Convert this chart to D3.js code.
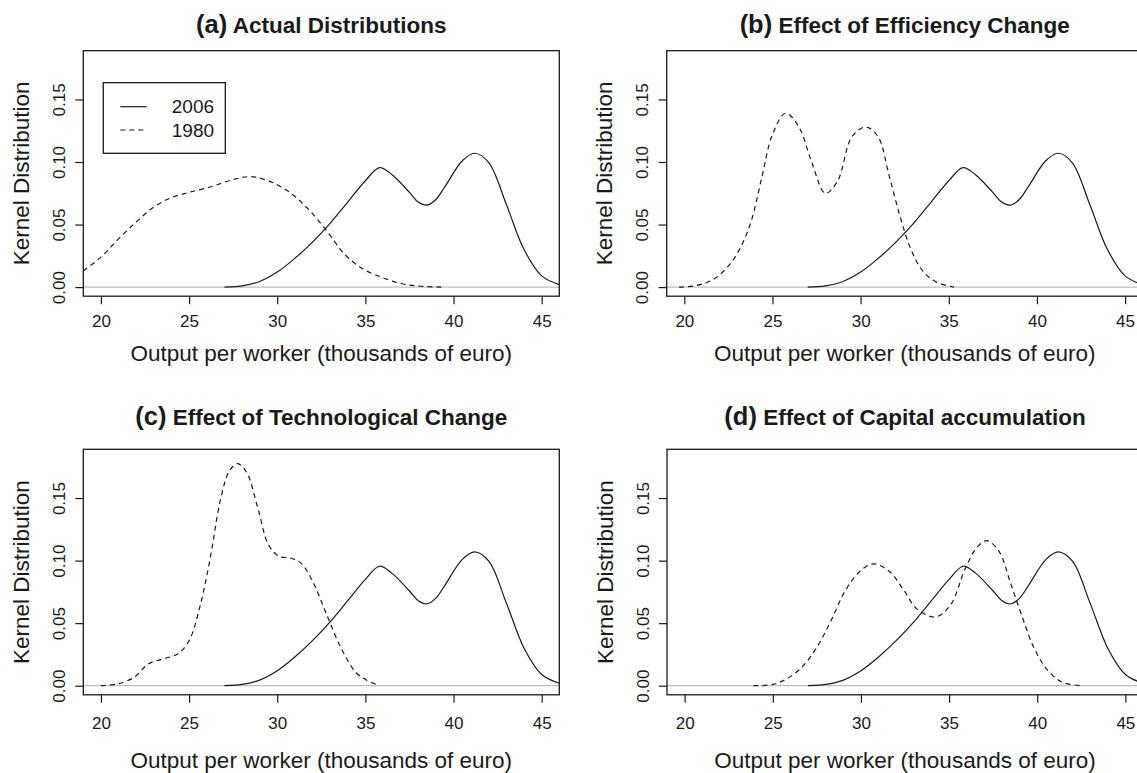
<!DOCTYPE html>
<html>
<head>
<meta charset="utf-8">
<script src="https://cdn.jsdelivr.net/npm/d3@7"></script>
<style>
  body { margin: 0; background: #fff; }
  svg { display: block; font-family: "Liberation Sans", Arial, Helvetica, sans-serif; }
</style>
</head>
<body>
<div id="chart"></div>
<script>
// tick values
var xTicks = [20, 25, 30, 35, 40, 45];
var yTicks = [0, 0.05, 0.10, 0.15];

// 2006 kernel density (same curve in every panel)
var x2006 = [27, 28, 29, 30, 31, 32, 33, 34, 35, 35.8, 36.5, 37.5, 38, 38.5, 39, 39.5, 40.5, 41.2, 42, 43, 44, 45, 46];
var d2006 = [0, 0.001, 0.0045, 0.012, 0.023, 0.036, 0.051, 0.068, 0.085, 0.0955, 0.090, 0.0757, 0.068, 0.0655, 0.070, 0.080, 0.101, 0.107, 0.0995, 0.066, 0.030, 0.009, 0.002];

// 1980 actual
var xActual = [19, 20, 21, 22, 22.9, 23.9, 25, 26.2, 27.4, 28.5, 29.5, 30.7, 31.75, 32.8, 33.8, 34.85, 35.9, 36.9, 37.9, 39.3];
var dActual = [0.013, 0.024, 0.0386, 0.052, 0.063, 0.071, 0.0758, 0.080, 0.0856, 0.0883, 0.085, 0.0758, 0.0625, 0.045, 0.0266, 0.0146, 0.008, 0.0032, 0.001, 0];

// 1980 with efficiency change
var xEff = [19.7, 20.7, 21.7, 22.6, 23.2, 23.8, 24.4, 25.0, 25.75, 26.5, 27.2, 28.0, 28.7, 29.5, 30.3, 31.0, 31.6, 32.2, 32.8, 33.5, 34.3, 35.3];
var dEff = [0, 0.0013, 0.0066, 0.0186, 0.032, 0.053, 0.088, 0.122, 0.139, 0.128, 0.101, 0.075, 0.085, 0.12, 0.128, 0.12, 0.090, 0.0585, 0.032, 0.0133, 0.004, 0];

// 1980 with technological change
var xTech = [20, 21, 21.9, 22.7, 23.5, 24.35, 25, 25.6, 26.2, 26.8, 27.3, 27.75, 28.25, 28.9, 29.5, 30.1, 30.75, 31.35, 32, 32.8, 33.6, 34.45, 35.1, 35.8];
var dTech = [0, 0.0016, 0.0069, 0.0175, 0.0214, 0.0254, 0.036, 0.0624, 0.102, 0.150, 0.172, 0.1775, 0.171, 0.142, 0.1127, 0.1034, 0.102, 0.098, 0.0836, 0.057, 0.0307, 0.0108, 0.0042, 0];

// 1980 with capital accumulation
var xCap = [23.9, 25, 25.8, 26.65, 27.5, 28.3, 29.1, 29.95, 30.7, 31.6, 32.4, 33.2, 34.25, 35.1, 35.9, 36.6, 37.15, 37.85, 38.45, 39.1, 39.8, 40.6, 41.4, 42.5];
var dCap = [0, 0.001, 0.0056, 0.0148, 0.0307, 0.0519, 0.0757, 0.0915, 0.0974, 0.0915, 0.077, 0.061, 0.055, 0.065, 0.093, 0.111, 0.1159, 0.107, 0.0836, 0.057, 0.0307, 0.0122, 0.0029, 0];

var titleTags = ["(a)", "(b)", "(c)", "(d)"];
var titleTexts = ["Actual Distributions", "Effect of Efficiency Change", "Effect of Technological Change", "Effect of Capital accumulation"];
var legendLabels = ["2006", "1980"];
var xLabel = "Output per worker (thousands of euro)";
var yLabel = "Kernel Distribution";

var series1980 = [[xActual, dActual], [xEff, dEff], [xTech, dTech], [xCap, dCap]];

// panel boxes (layout)
var panels = [
  {left: 83.3, top: 50.7, titleY: 25, tickY: 25, labY: 56.5},
  {left: 666.7, top: 50.7, titleY: 25, tickY: 25, labY: 56.5},
  {left: 83.3, top: 449.3, titleY: 416.7, tickY: 28.4, labY: 65.7},
  {left: 667, top: 449.3, titleY: 416.7, tickY: 28.4, labY: 65.7}
];
var pw = 476, ph = 245.5;
var ink = "#1a1a1a";

var svg = d3.select("#chart").append("svg")
    .attr("width", 1137)
    .attr("height", 773);

var toPts = function(xs, ys) { return xs.map(function(v, i) { return [v, ys[i]]; }); };

panels.forEach(function(p, k) {
    var x = d3.scaleLinear().domain([19, 46]).range([0, pw]);
    var y = d3.scaleLinear().domain([-0.00727, 0.18897]).range([ph, 0]);

    var g = svg.append("g").attr("transform", "translate(" + p.left + "," + p.top + ")");

    g.append("clipPath").attr("id", "clip" + k)
      .append("rect").attr("width", pw).attr("height", ph);

    // zero reference line
    g.append("line")
        .attr("x1", 0).attr("x2", pw)
        .attr("y1", y(0)).attr("y2", y(0))
        .attr("stroke", "#bebebe").attr("stroke-width", 1.2);

    var line = d3.line()
        .x(function(d) { return x(d[0]); })
        .y(function(d) { return y(Math.max(0, d[1])); })
        .curve(d3.curveCatmullRom.alpha(0.5));

    var curves = g.append("g").attr("clip-path", "url(#clip" + k + ")");

    curves.append("path")
        .attr("d", line(toPts(x2006, d2006)))
        .attr("fill", "none").attr("stroke", ink).attr("stroke-width", 1.2);

    curves.append("path")
        .attr("d", line(toPts(series1980[k][0], series1980[k][1])))
        .attr("fill", "none").attr("stroke", ink).attr("stroke-width", 1.2)
        .attr("stroke-dasharray", "5,4");

    // box
    g.append("rect")
        .attr("width", pw).attr("height", ph)
        .attr("fill", "none").attr("stroke", ink).attr("stroke-width", 1.3);

    // x axis
    var xa = g.append("g")
        .attr("transform", "translate(0," + ph + ")")
        .call(d3.axisBottom(x).tickValues(xTicks).tickSize(8).tickFormat(d3.format("d")));
    xa.select(".domain").remove();
    xa.selectAll("line").attr("stroke", ink).attr("stroke-width", 1.2);
    xa.selectAll("text")
        .attr("y", p.tickY).attr("dy", "0.35em")
        .attr("font-size", 17).attr("font-family", "Liberation Sans, Arial, sans-serif")
        .attr("fill", ink);

    // y axis
    var ya = g.append("g")
        .call(d3.axisLeft(y).tickValues(yTicks).tickSize(8).tickFormat(d3.format(".2f")));
    ya.select(".domain").remove();
    ya.selectAll("line").attr("stroke", ink).attr("stroke-width", 1.2);
    ya.selectAll("text")
        .attr("x", 0).attr("dy", "0.35em")
        .attr("text-anchor", "middle")
        .attr("transform", "translate(-24.3,0) rotate(-90)")
        .attr("font-size", 17).attr("font-family", "Liberation Sans, Arial, sans-serif")
        .attr("fill", ink);

    // axis labels
    g.append("text")
        .attr("x", pw / 2).attr("y", ph + p.labY).attr("dy", "0.35em")
        .attr("text-anchor", "middle")
        .attr("font-size", 22.5).attr("fill", ink)
        .text(xLabel);

    g.append("text")
        .attr("transform", "translate(-62.3," + (ph / 2) + ") rotate(-90)")
        .attr("dy", "0.35em")
        .attr("text-anchor", "middle")
        .attr("font-size", 22.5).attr("fill", ink)
        .text(yLabel);

    // title
    var t = svg.append("text")
        .attr("x", p.left + pw / 2).attr("y", p.titleY).attr("dy", "0.35em")
        .attr("text-anchor", "middle")
        .attr("font-weight", "bold").attr("font-size", 22.5).attr("fill", ink);
    t.append("tspan").attr("font-size", 25.5).text(titleTags[k]);
    t.append("tspan").text(" " + titleTexts[k]);

    // legend (panel a only)
    if (k === 0) {
        var lg = g.append("g").attr("transform", "translate(20,32)");
        lg.append("rect")
            .attr("width", 122).attr("height", 70.6)
            .attr("fill", "#fff").attr("stroke", ink).attr("stroke-width", 1.3);
        lg.selectAll("line.leg")
            .data(legendLabels)
            .enter()
            .append("line")
            .attr("class", "leg")
            .attr("x1", 17).attr("x2", 43.5)
            .attr("y1", function(d, i) { return 24 + i * 23.3; })
            .attr("y2", function(d, i) { return 24 + i * 23.3; })
            .attr("stroke", ink).attr("stroke-width", 1.2)
            .attr("stroke-dasharray", function(d, i) { return i === 0 ? null : "5,4"; });
        lg.selectAll("text.leg")
            .data(legendLabels)
            .enter()
            .append("text")
            .attr("class", "leg")
            .attr("x", 68.5)
            .attr("y", function(d, i) { return 24 + i * 23.3; })
            .attr("dy", "0.35em")
            .attr("font-size", 19).attr("fill", ink)
            .text(function(d) { return d; });
    }
});
</script>
</body>
</html>
